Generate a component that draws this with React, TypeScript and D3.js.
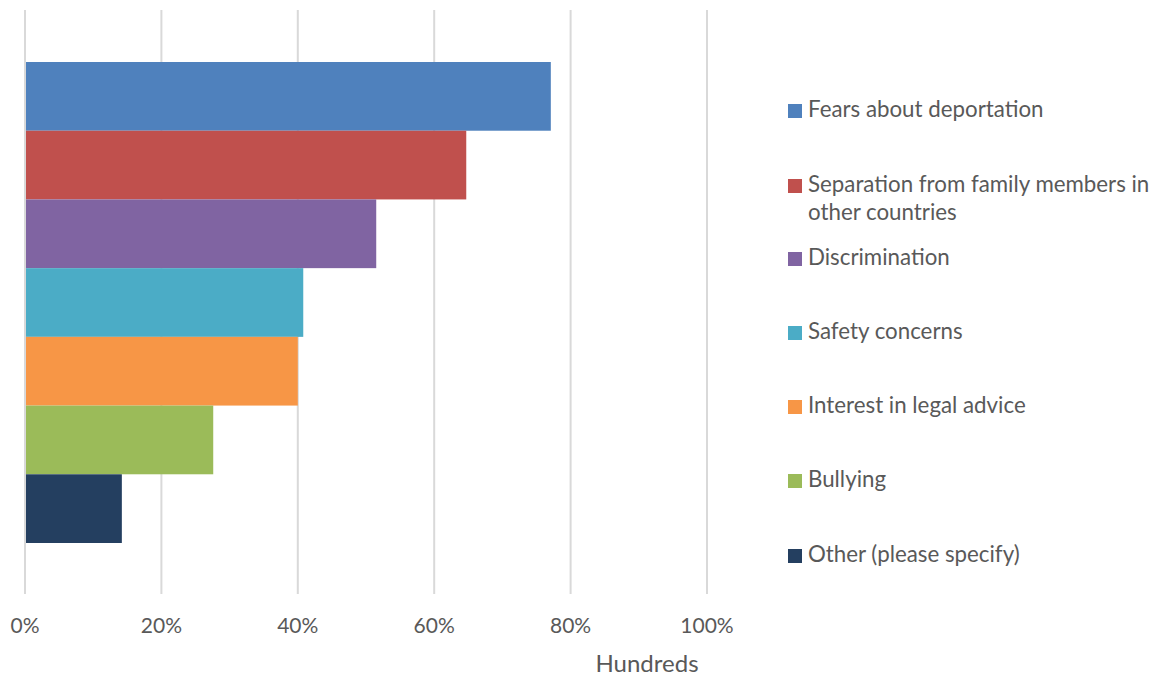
import React from "react";
import * as d3 from "d3";

const categories = [
  "Fears about deportation",
  "Separation from family members in other countries",
  "Discrimination",
  "Safety concerns",
  "Interest in legal advice",
  "Bullying",
  "Other (please specify)",
];
const values = [0.771, 0.647, 0.515, 0.408, 0.4, 0.276, 0.142];
const colors = ["#4F81BD", "#C0504D", "#8064A2", "#4BACC6", "#F79646", "#9BBB59", "#243F60"];
const legendLines = [
  ["Fears about deportation"],
  ["Separation from family members in", "other countries"],
  ["Discrimination"],
  ["Safety concerns"],
  ["Interest in legal advice"],
  ["Bullying"],
  ["Other (please specify)"],
];
const ticks = [0, 0.2, 0.4, 0.6, 0.8, 1.0];
const legendBaselines = [117, 192, 265, 339, 413, 487, 562];

export default function App() {
  const W = 1159, H = 677;
  const x = d3.scaleLinear().domain([0, 1]).range([25, 707]);
  const y = d3.scaleBand<string>().domain(categories).range([62, 543]).padding(0);
  const fmt = d3.format(".0%");
  const font = "Lato, 'Open Sans', sans-serif";
  return (
    <svg width={W} height={H} style={{ position: "absolute", left: 0, top: 0 }}>
      <rect width={W} height={H} fill="#fff" />
      {ticks.map((t) => (
        <line key={t} x1={x(t)} x2={x(t)} y1={10} y2={594} stroke="#d9d9d9" strokeWidth={2} />
      ))}
      {categories.map((c, i) => (
        <rect key={c} x={x(0) + 1} y={y(c)} width={x(values[i]) - x(0) - 1} height={y.bandwidth()} fill={colors[i]} />
      ))}
      {ticks.map((t) => (
        <text key={t} x={x(t)} y={633} textAnchor="middle" fontFamily={font} fontSize={21} fill="#595959">
          {fmt(t)}
        </text>
      ))}
      <text x={647} y={672} textAnchor="middle" fontFamily={font} fontSize={24} fill="#595959">
        Hundreds
      </text>
      {categories.map((c, i) => (
        <g key={c}>
          <rect x={788} y={legendBaselines[i] - 13} width={14} height={14} fill={colors[i]} />
          {legendLines[i].map((ln, j) => (
            <text key={j} x={808} y={legendBaselines[i] + j * 28} fontFamily={font} fontSize={22.3} fill="#595959">
              {ln}
            </text>
          ))}
        </g>
      ))}
    </svg>
  );
}
